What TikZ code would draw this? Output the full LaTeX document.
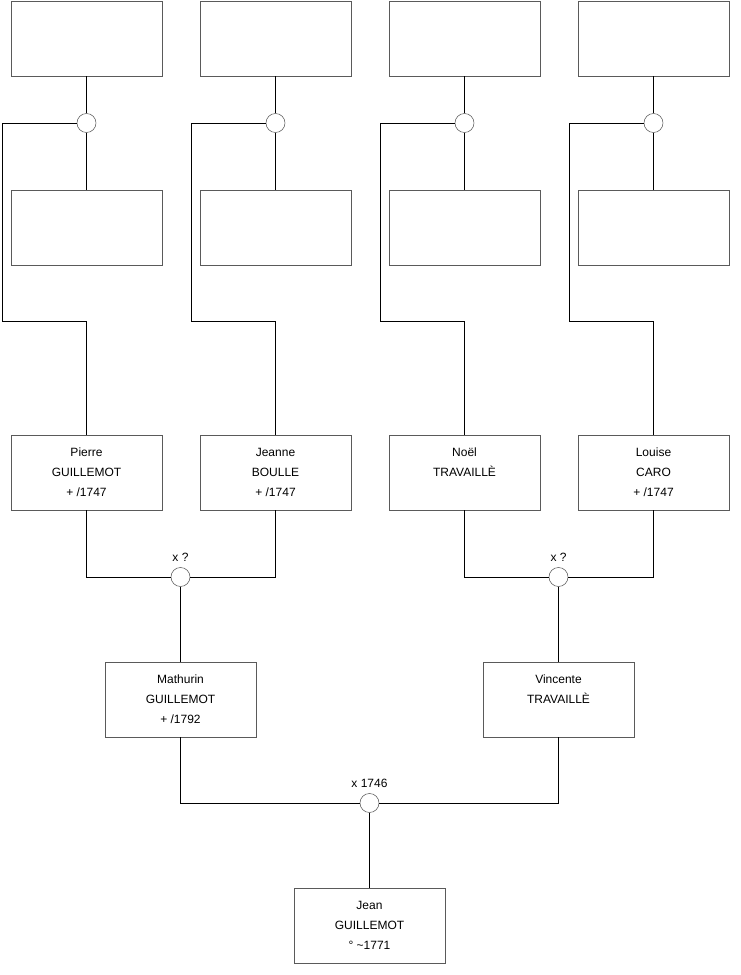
\documentclass[tikz,border=0pt]{standalone}
\usepackage{fontspec}
\setmainfont{Liberation Sans}
\usetikzlibrary{positioning}
\definecolor{boxgray}{RGB}{90,90,90}

\begin{document}
\begin{tikzpicture}[
    x=0.75pt, y=-0.75pt,
    node distance=28.5pt,
    person/.style={rectangle, draw=boxgray, fill=white, minimum width=113.25pt, minimum height=56.25pt, inner sep=0pt, outer sep=0pt, align=center, font=\fontsize{9}{15}\selectfont},
    union/.style={circle, draw=boxgray, fill=white, minimum size=14.25pt, inner sep=0pt},
    date/.style={font=\fontsize{9}{11}\selectfont, label distance=1pt},
    link/.style={line width=0.75pt, black}
]
\useasboundingbox (0,0) rectangle (740,975);

% Generation 4 (empty boxes)
\node[person] (gf1) at (86.5,38.5) {};
\node[person, right=of gf1] (gf2) {};
\node[person, right=of gf2] (gf3) {};
\node[person, right=of gf3] (gf4) {};

\node[person, below=85.5pt of gf1] (gm1) {};
\node[person, below=85.5pt of gf2] (gm2) {};
\node[person, below=85.5pt of gf3] (gm3) {};
\node[person, below=85.5pt of gf4] (gm4) {};

\node[union] (u1) at (86.5,123) {};
\node[union] (u2) at (275.5,123) {};
\node[union] (u3) at (464.5,123) {};
\node[union] (u4) at (653.5,123) {};

% Generation 3
\node[person] (pierre) at (86.5,472.5) {Pierre\\GUILLEMOT\\+ /1747};
\node[person, right=of pierre] (jeanne) {Jeanne\\BOULLE\\+ /1747};
\node[person, right=of jeanne] (noel) {Noël\\TRAVAILLÈ\\\mbox{}};
\node[person, right=of noel] (louise) {Louise\\CARO\\+ /1747};

\node[union, label={[date]above:x ?}] (ua) at (180.5,577) {};
\node[union, label={[date]above:x ?}] (ub) at (558.5,577) {};

% Generation 2
\node[person] (mathurin) at (180.5,699.5) {Mathurin\\GUILLEMOT\\+ /1792};
\node[person] (vincente) at (558.5,699.5) {Vincente\\TRAVAILLÈ\\\mbox{}};

\node[union, label={[date]above:x 1746}] (uc) at (369.5,803) {};

% Generation 1
\node[person] (jean) at (369.5,925.5) {Jean\\GUILLEMOT\\° \textasciitilde1771};

% corners of the child lines
\coordinate (k1) at (2,321);
\coordinate (k2) at (191,321);
\coordinate (k3) at (380,321);
\coordinate (k4) at (569,321);

% Links
\draw[link] (gf1) -- (u1) -- (gm1);
\draw[link] (gf2) -- (u2) -- (gm2);
\draw[link] (gf3) -- (u3) -- (gm3);
\draw[link] (gf4) -- (u4) -- (gm4);

\draw[link] (u1.west) -| (k1) -| (pierre.north);
\draw[link] (u2.west) -| (k2) -| (jeanne.north);
\draw[link] (u3.west) -| (k3) -| (noel.north);
\draw[link] (u4.west) -| (k4) -| (louise.north);

\draw[link] (pierre) |- (ua) -| (jeanne);
\draw[link] (noel) |- (ub) -| (louise);
\draw[link] (ua) -- (mathurin);
\draw[link] (ub) -- (vincente);

\draw[link] (mathurin) |- (uc) -| (vincente);
\draw[link] (uc) -- (jean);

\end{tikzpicture}
\end{document}
